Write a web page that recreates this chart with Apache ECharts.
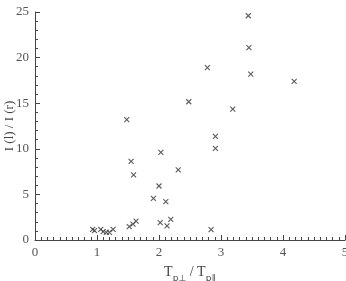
<!DOCTYPE html>
<html>
<head>
<meta charset="utf-8">
<script src="https://cdn.jsdelivr.net/npm/echarts@6/dist/echarts.min.js"></script>
<style>
  html, body { margin: 0; padding: 0; background: #fff; }
  #chart { width: 346px; height: 281px; }
</style>
</head>
<body>
<div id="chart"></div>
<script>
// temperature anisotropy T_p_perp / T_p_par
var tempRatio = [0.93, 0.96, 1.06, 1.10, 1.15, 1.20, 1.26, 1.52, 1.58, 1.63,
  2.02, 2.13, 2.19, 2.11, 1.91, 2.00, 2.31, 1.59, 1.55, 2.03,
  1.48, 2.48, 2.91, 2.91, 2.84, 3.19, 2.78, 3.48, 3.45, 3.44, 4.18]
// intensity ratio I(l) / I(r)
var intensityRatio = [1.17, 1.02, 1.17, 0.91, 0.84, 0.84, 1.17, 1.46, 1.75, 2.08,
  1.90, 1.54, 2.27, 4.20, 4.57, 5.92, 7.68, 7.13, 8.63, 9.62,
  13.19, 15.16, 11.37, 10.05, 1.13, 14.36, 18.89, 18.20, 21.09, 24.59, 17.40]
var xTicks = [0, 1, 2, 3, 4, 5]
var yTicks = [0, 5, 10, 15, 20, 25]

var points = tempRatio.map(function(v, i) {
  return [v, intensityRatio[i]]
})

var axisColor = '#444'
var font = 'Liberation Serif'

var myChart = echarts.init(document.getElementById('chart'))
myChart.setOption({
  animation: false,
  textStyle: { fontFamily: font },
  grid: { left: 35, right: 1, top: 12, bottom: 41, outerBoundsMode: 'none', containLabel: false },
  xAxis: {
    type: 'value',
    min: xTicks[0],
    max: xTicks[xTicks.length - 1],
    interval: 1,
    name: '{a|T}{s|p⊥}{a| / T}{s|p∥}',
    nameLocation: 'middle',
    nameGap: 25,
    nameMoveOverlap: false,
    nameTextStyle: {
      rich: {
        a: { fontFamily: font, fontSize: 14, color: '#444', lineHeight: 18, verticalAlign: 'top' },
        s: { fontFamily: 'DejaVu Sans', fontSize: 9, color: '#444', lineHeight: 18, verticalAlign: 'bottom', padding: [8, 0, 0, 0] }
      }
    },
    axisLine: { lineStyle: { color: axisColor, width: 1 } },
    axisTick: { inside: true, length: 5, lineStyle: { color: axisColor } },
    minorTick: { show: true, splitNumber: 10, length: 3, lineStyle: { color: axisColor } },
    axisLabel: { color: '#555', fontSize: 13, fontFamily: font, margin: 6 },
    splitLine: { show: false }
  },
  yAxis: {
    type: 'value',
    min: yTicks[0],
    max: yTicks[yTicks.length - 1],
    interval: 5,
    name: 'I (l) / I (r)',
    nameLocation: 'middle',
    nameGap: 19,
    nameMoveOverlap: false,
    nameTextStyle: { color: '#444', fontSize: 13, fontFamily: font },
    axisLine: { show: true, lineStyle: { color: axisColor, width: 1 } },
    axisTick: { show: true, inside: true, length: 5, lineStyle: { color: axisColor } },
    minorTick: { show: true, splitNumber: 5, length: 3, lineStyle: { color: axisColor } },
    axisLabel: { color: '#555', fontSize: 13, fontFamily: font, margin: 6 },
    splitLine: { show: false }
  },
  series: [{
    type: 'scatter',
    data: points,
    symbol: 'path://M0,0L10,10M10,0L0,10',
    symbolSize: 5,
    itemStyle: { color: 'none', borderColor: '#333', borderWidth: 1.1 }
  }]
})
</script>
</body>
</html>
